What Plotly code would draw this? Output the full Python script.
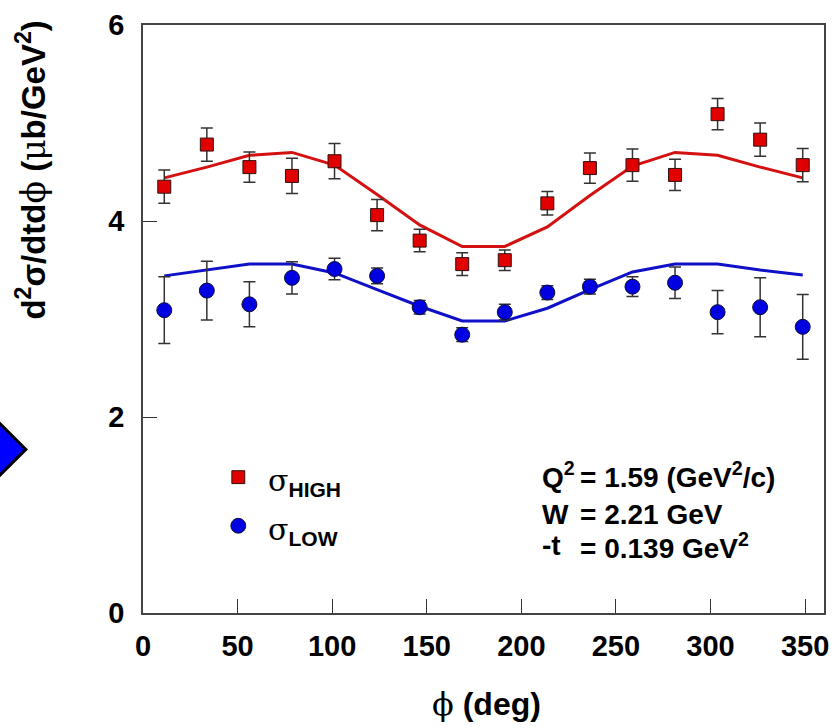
import plotly.graph_objects as go

# Azimuthal angle bin centres (deg)
phi = [11.25, 33.75, 56.25, 78.75, 101.25, 123.75, 146.25, 168.75,
       191.25, 213.75, 236.25, 258.75, 281.25, 303.75, 326.25, 348.75]

# Cross sections (ub/GeV^2) with statistical errors
sigma_high = [4.35, 4.78, 4.55, 4.46, 4.61, 4.06, 3.80, 3.56,
              3.60, 4.18, 4.54, 4.57, 4.47, 5.09, 4.83, 4.57]
sigma_high_err = [0.17, 0.17, 0.155, 0.18, 0.18, 0.16, 0.115, 0.115,
                  0.105, 0.12, 0.155, 0.165, 0.16, 0.16, 0.17, 0.17]
sigma_low = [3.09, 3.29, 3.15, 3.42, 3.51, 3.44, 3.12, 2.84,
             3.07, 3.27, 3.33, 3.33, 3.37, 3.07, 3.12, 2.92]
sigma_low_err = [0.34, 0.30, 0.23, 0.165, 0.11, 0.08, 0.07, 0.07,
                 0.08, 0.07, 0.075, 0.10, 0.16, 0.22, 0.30, 0.33]

# Fit curves evaluated at the bin centres
fit_high = [4.44, 4.55, 4.67, 4.70, 4.57, 4.27, 3.96, 3.74,
            3.74, 3.94, 4.26, 4.56, 4.70, 4.67, 4.55, 4.44]
fit_low = [3.44, 3.50, 3.56, 3.56, 3.47, 3.30, 3.13, 2.98,
           2.98, 3.11, 3.30, 3.48, 3.56, 3.56, 3.50, 3.45]

x_ticks = [0, 50, 100, 150, 200, 250, 300, 350]
y_ticks = [0, 2, 4, 6]

W, H = 838, 728
ML, MR, MT, MB = 143, 9, 20, 115
PW, PH = W - ML - MR, H - MT - MB


def px(x):
    return (x - ML) / PW


def py(y):
    return (H - MB - y) / PH


SANS = "Liberation Sans, Arial, Helvetica, sans-serif"
SYM = "font-family:DejaVu Serif, Liberation Serif, serif;font-weight:normal"
RED, BLUE = "#e00000", "#0000e0"

fig = go.Figure()

fig.add_trace(go.Scatter(x=phi, y=fit_high, mode="lines",
                         line=dict(color="#d41010", width=3), showlegend=False))
fig.add_trace(go.Scatter(x=phi, y=fit_low, mode="lines",
                         line=dict(color="#1010c8", width=3), showlegend=False))

fig.add_trace(go.Scatter(
    x=phi, y=sigma_high, mode="markers", showlegend=False,
    marker=dict(symbol="square", size=13, color=RED,
                line=dict(color="#301010", width=1)),
    error_y=dict(type="data", array=sigma_high_err, color="#333333",
                 thickness=1.5, width=6)))
fig.add_trace(go.Scatter(
    x=phi, y=sigma_low, mode="markers", showlegend=False,
    marker=dict(symbol="circle", size=15, color=BLUE,
                line=dict(color="#101030", width=1)),
    error_y=dict(type="data", array=sigma_low_err, color="#333333",
                 thickness=1.5, width=6)))

axis_common = dict(
    ticks="inside", ticklen=14, tickwidth=1, tickcolor="#333333",
    showline=True, mirror=True, linecolor="#444444", linewidth=1.5,
    showgrid=False, zeroline=False,
    tickfont=dict(family=SANS, size=29, color="#000000", weight="bold"),
)

fig.update_xaxes(range=[0, 360], tickvals=x_ticks, ticklabelstandoff=6,
                 **axis_common)
fig.update_yaxes(range=[0, 6], tickvals=y_ticks, ticklabelstandoff=11,
                 **axis_common)

ann_font = dict(family=SANS, color="#000000", weight="bold")
annotations = [
    # axis titles
    dict(x=px(31), y=py(166), textangle=-90, font=dict(size=33, **ann_font),
         text=f"d<sup>2</sup>σ/dtd<span style='{SYM}'>ϕ</span> "
              f"(<span style='{SYM}'>μ</span>b/GeV<sup>2</sup>)"),
    dict(x=px(489), y=py(705), font=dict(size=32, **ann_font),
         text=f"<span style='{SYM}'>ϕ</span> (deg)"),
    # legend labels
    dict(x=px(267), y=py(481), xanchor="left", font=dict(size=30, **ann_font),
         text=f"<span style='{SYM}'>σ</span><sub>HIGH</sub>"),
    dict(x=px(267), y=py(530), xanchor="left", font=dict(size=30, **ann_font),
         text=f"<span style='{SYM}'>σ</span><sub>LOW</sub>"),
    # kinematics
    dict(x=px(543), y=py(474), xanchor="left", font=dict(size=28, **ann_font),
         text="Q<sup>2</sup>"),
    dict(x=px(581), y=py(474), xanchor="left", font=dict(size=28, **ann_font),
         text="= 1.59 (GeV<sup>2</sup>/c)"),
    dict(x=px(543), y=py(514), xanchor="left", font=dict(size=28, **ann_font),
         text="W"),
    dict(x=px(581), y=py(514), xanchor="left", font=dict(size=28, **ann_font),
         text="= 2.21 GeV"),
    dict(x=px(543), y=py(545), xanchor="left", font=dict(size=28, **ann_font),
         text="-t"),
    dict(x=px(581), y=py(545), xanchor="left", font=dict(size=28, **ann_font),
         text="= 0.139 GeV<sup>2</sup>"),
]
for a in annotations:
    a.setdefault("xanchor", "center")
    a.setdefault("yanchor", "middle")
    a.update(xref="paper", yref="paper", showarrow=False)

shapes = [
    # legend symbols
    dict(type="rect", xref="paper", yref="paper",
         x0=px(232.5), x1=px(245.5), y0=py(482.5), y1=py(469.5),
         fillcolor=RED, line=dict(color="#301010", width=1)),
    dict(type="circle", xref="paper", yref="paper",
         x0=px(231.5), x1=px(246.5), y0=py(532.5), y1=py(517.5),
         fillcolor=BLUE, line=dict(color="#101030", width=1)),
    # arrow tip at the left edge
    dict(type="path", xref="paper", yref="paper",
         path=(f"M {px(-12)},{py(411)} L {px(25)},{py(448)} "
               f"L {px(-12)},{py(485)} Z"),
         fillcolor="#0000ff", line=dict(color="#000000", width=3)),
]

fig.update_layout(
    width=W, height=H, autosize=False,
    margin=dict(l=ML, r=MR, t=MT, b=MB),
    plot_bgcolor="white", paper_bgcolor="white",
    showlegend=False,
    annotations=annotations, shapes=shapes,
)

fig.write_html("out.html")
